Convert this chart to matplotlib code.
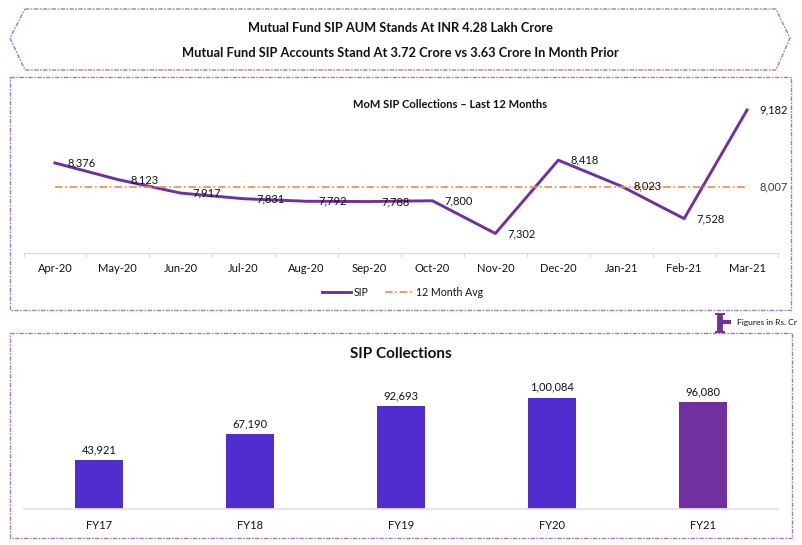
import matplotlib
matplotlib.use("Agg")
import matplotlib.pyplot as plt

plt.rcParams["font.family"] = ["Lato", "DejaVu Sans"]

W, H = 803, 545

# monthly SIP data
months = ["Apr-20", "May-20", "Jun-20", "Jul-20", "Aug-20", "Sep-20",
          "Oct-20", "Nov-20", "Dec-20", "Jan-21", "Feb-21", "Mar-21"]
sip = [8376, 8123, 7917, 7831, 7792, 7788, 7800, 7302, 8418, 8023, 7528, 9182]
avg_12m = 8007

# yearly SIP data
years = ["FY17", "FY18", "FY19", "FY20", "FY21"]
collections = [43921, 67190, 92693, 100084, 96080]
collection_labels = ["43,921", "67,190", "92,693", "1,00,084", "96,080"]

PURPLE = "#7030A0"
BLUE = "#512CCF"
ORANGE = "#F28A45"
GREY = "#D9D9D9"
TXT = "#111111"


def make_axes(left, top, right, bottom):
    return fig.add_axes([left / W, 1 - bottom / H, (right - left) / W, (bottom - top) / H])


fig = plt.figure(figsize=(W / 100, H / 100), dpi=100)

# background layer in pixel coords, for the dashed boxes and header text
bg = fig.add_axes([0, 0, 1, 1])
bg.set_xlim(0, W)
bg.set_ylim(H, 0)
bg.axis("off")

frame = dict(color=PURPLE, lw=1.0, ls=(0, (3.2, 1, 1.2, 1)), alpha=0.65)
bg.plot([25, 776, 790, 776, 25, 10, 25], [9, 9, 38, 70, 70, 38, 9], **frame)
bg.plot([10, 791, 791, 10, 10], [77, 77, 310, 310, 77], **frame)
bg.plot([10, 792, 792, 10, 10], [333, 333, 538, 538, 333], **frame)

bg.text(400.5, 28, "Mutual Fund SIP AUM Stands At INR 4.28 Lakh Crore",
        ha="center", va="center", fontsize=9.15, fontweight="bold", color=TXT)
bg.text(400.5, 53, "Mutual Fund SIP Accounts Stand At 3.72 Crore vs 3.63 Crore In Month Prior",
        ha="center", va="center", fontsize=9.25, fontweight="bold", color=TXT)
bg.text(450, 105, "MoM SIP Collections \u2013 Last 12 Months",
        ha="center", va="center", fontsize=8, fontweight="bold", color=TXT)
bg.text(401, 354, "SIP Collections",
        ha="center", va="center", fontsize=11, fontweight="bold", color=TXT)

# small "T" marker next to the units note
bg.plot([720, 720], [314, 332], color=PURPLE, lw=4.2, solid_capstyle="butt")
bg.plot([716, 724], [314, 314], color=PURPLE, lw=1.4)
bg.plot([716, 724], [332, 332], color=PURPLE, lw=1.4)
bg.plot([722, 731], [322, 322], color=PURPLE, lw=3, solid_capstyle="butt")
bg.text(737, 323, "Figures in Rs. Cr", ha="left", va="center", fontsize=6.1, color=TXT)

# line chart
ax = make_axes(23.5, 95, 778.5, 252.5)
ax.patch.set_alpha(0)
x = list(range(len(months)))
line, = ax.plot(x, sip, color=PURPLE, lw=2.1, label="SIP")
avg, = ax.plot(x, [avg_12m] * len(x), color=ORANGE, lw=1.2,
               ls=(0, (4.5, 1.7, 1, 1.7)), label="12 Month Avg")
ax.set_xlim(-0.5, 11.5)
ax.set_ylim(7012, 9411)
ax.set_yticks([])
ax.set_xticks([i - 0.5 for i in range(13)], minor=True)
ax.set_xticks(x)
ax.set_xticklabels(months, fontsize=8, color=TXT)
ax.tick_params(axis="x", which="major", length=0, pad=7.5)
ax.tick_params(axis="x", which="minor", length=3, color=GREY, width=0.8)
for s in ["top", "left", "right"]:
    ax.spines[s].set_visible(False)
ax.spines["bottom"].set_color(GREY)
ax.spines["bottom"].set_linewidth(0.8)

for i, v in enumerate(sip):
    ax.annotate(f"{v:,}", (i, v), xytext=(19, 0), textcoords="offset points",
                ha="center", va="center", fontsize=8, color=TXT)
ax.annotate(f"{avg_12m:,}", (11, avg_12m), xytext=(19, 0), textcoords="offset points",
            ha="center", va="center", fontsize=8, color="#404040")

ax.legend(handles=[line, avg], loc="center", bbox_to_anchor=(403 / W, 1 - 292 / H),
          bbox_transform=fig.transFigure, ncol=2, frameon=False, fontsize=7.6,
          handlelength=2.7, handletextpad=0.3, columnspacing=1.5, labelcolor=TXT)

# bar chart
ax2 = make_axes(23.5, 370, 778.5, 509)
ax2.patch.set_alpha(0)
colors = [BLUE, BLUE, BLUE, BLUE, PURPLE]
bars = ax2.bar(years, collections, width=0.318, color=colors)
ax2.set_xlim(-0.5, 4.5)
ax2.set_ylim(0, 125000)
ax2.set_yticks([])
ax2.tick_params(axis="x", length=0, pad=8, labelsize=8, labelcolor=TXT)
for s in ["top", "left", "right"]:
    ax2.spines[s].set_visible(False)
ax2.spines["bottom"].set_color("#E4E4E4")
ax2.spines["bottom"].set_linewidth(1.3)
ax2.bar_label(bars, labels=collection_labels, padding=3.5, fontsize=8, color=TXT)

fig.savefig("out.png", dpi=100)
